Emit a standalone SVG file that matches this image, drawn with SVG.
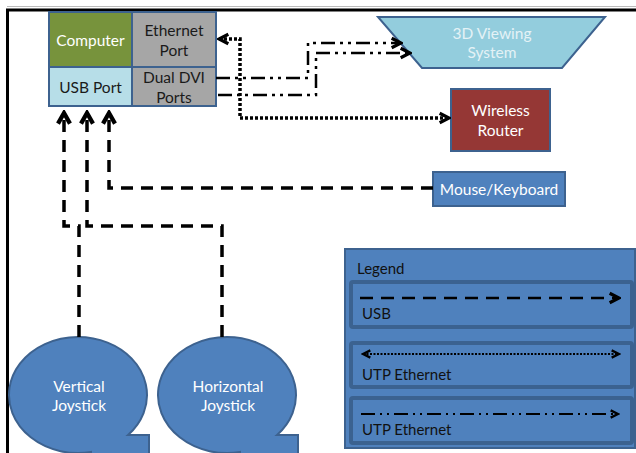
<svg xmlns="http://www.w3.org/2000/svg" width="636" height="453" viewBox="0 0 636 453">
<style>
text{font-family:Lato,"Liberation Sans",sans-serif;font-size:15.5px;text-anchor:middle;dominant-baseline:central}
.w{fill:#ffffff}
.d{fill:#1a1a1a}
.box{stroke:#3d628f;stroke-width:2}
.usb{fill:none;stroke:#000;stroke-width:3.5;stroke-dasharray:12 8}
.eth{fill:none;stroke:#000;stroke-width:3.5;stroke-dasharray:3 2}
.dvi{fill:none;stroke:#000;stroke-width:2.5;stroke-dasharray:14 5 3 5 3 5}
.lg{text-anchor:start;dominant-baseline:auto;font-size:15px;fill:#111}
</style>
<defs>
<marker id="up" markerUnits="userSpaceOnUse" markerWidth="16" markerHeight="16" viewBox="0 0 12 12" refX="10" refY="6" orient="auto">
<path d="M2,1.5 L10,6 L2,10.5" fill="none" stroke="#000" stroke-width="3.2"/>
</marker>
<marker id="chev" markerUnits="userSpaceOnUse" markerWidth="14" markerHeight="14" viewBox="0 0 12 12" refX="10" refY="6" orient="auto-start-reverse">
<path d="M2,2 L10,6 L2,10" fill="none" stroke="#000" stroke-width="2.8"/>
</marker>
<marker id="chevs" markerUnits="userSpaceOnUse" markerWidth="11" markerHeight="11" viewBox="0 0 12 12" refX="10" refY="6" orient="auto-start-reverse">
<path d="M2,2 L10,6 L2,10" fill="none" stroke="#000" stroke-width="2.6"/>
</marker>
</defs>

<rect width="636" height="453" fill="#fff"/>
<line x1="7" y1="6.5" x2="636" y2="6.5" stroke="#bbbbbb" stroke-width="1"/>
<line x1="6" y1="10" x2="636" y2="10" stroke="#000" stroke-width="3"/>
<line x1="7.5" y1="9" x2="7.5" y2="453" stroke="#000" stroke-width="3"/>

<g id="computer">
<rect x="49" y="12" width="83" height="55" fill="#77933c"/>
<rect x="132" y="12" width="84" height="55" fill="#a6a6a6"/>
<rect x="49" y="67" width="83" height="39" fill="#b7dee8"/>
<rect x="132" y="67" width="84" height="39" fill="#a6a6a6"/>
<rect x="49" y="12" width="167" height="94" fill="none" class="box"/>
<line x1="132" y1="12" x2="132" y2="106" class="box"/>
<line x1="49" y1="67" x2="216" y2="67" class="box"/>
<text x="90.5" y="40" class="w">Computer</text>
<text x="174" y="30" class="d">Ethernet</text>
<text x="174" y="50" class="d">Port</text>
<text x="90.5" y="87" class="d">USB Port</text>
<text x="174" y="77" class="d">Dual DVI</text>
<text x="174" y="97" class="d">Ports</text>
</g>

<g id="viewing">
<polygon points="378,17 605,17 562,68 422,68" fill="#93cddd" class="box"/>
<text x="492" y="33" fill="#e4f2f6">3D Viewing</text>
<text x="492" y="52" fill="#e4f2f6">System</text>
</g>

<g id="router">
<rect x="451" y="89" width="99" height="62" fill="#953735" class="box"/>
<text x="500.5" y="110" class="w">Wireless</text>
<text x="500.5" y="130" class="w">Router</text>
</g>

<g id="mouse">
<rect x="433" y="172" width="132" height="34" fill="#4f81bd" class="box"/>
<text x="499" y="189" class="w">Mouse/Keyboard</text>
</g>

<g id="vjoy">
<path d="M128,435 L149,435 L149,470 L91,470 L91,452 A69,58 0 1 1 128,435 Z" fill="#4f81bd" class="box"/>
<text x="79" y="386" class="w">Vertical</text>
<text x="79" y="405" class="w">Joystick</text>
</g>

<g id="hjoy">
<path d="M277,435 L298,435 L298,470 L240,470 L240,452 A69,58 0 1 1 277,435 Z" fill="#4f81bd" class="box"/>
<text x="228" y="386" class="w">Horizontal</text>
<text x="228" y="405" class="w">Joystick</text>
</g>

<g id="legend">
<rect x="345" y="249" width="290" height="199" fill="#4f81bd" stroke="#3d628f" stroke-width="2"/>
<text x="357" y="274" class="lg">Legend</text>
<rect x="351" y="282" width="281" height="45" rx="2" fill="#4f81bd" stroke="#3b6290" stroke-width="4"/>
<rect x="351" y="343" width="281" height="44" rx="2" fill="#4f81bd" stroke="#3b6290" stroke-width="4"/>
<rect x="351" y="398" width="281" height="45" rx="2" fill="#4f81bd" stroke="#3b6290" stroke-width="4"/>
<path d="M360,298 H619" fill="none" stroke="#000" stroke-width="2.5" stroke-dasharray="13 8" marker-end="url(#chev)"/>
<text x="362" y="319" class="lg">USB</text>
<path d="M363,354 H619" fill="none" stroke="#000" stroke-width="2" stroke-dasharray="2 1.5" marker-start="url(#chevs)" marker-end="url(#chevs)"/>
<text x="362" y="380" class="lg">UTP Ethernet</text>
<path d="M361,414 H618" fill="none" stroke="#000" stroke-width="2" stroke-dasharray="14 5 2 5 2 5" marker-end="url(#chevs)"/>
<text x="362" y="435" class="lg">UTP Ethernet</text>
</g>

<g id="connectors">
<path class="usb" d="M79,337 V226 H64 V113" marker-end="url(#up)"/>
<path class="usb" d="M222,337 V226 H87 V113" marker-end="url(#up)"/>
<path class="usb" d="M433,188 H109 V113" marker-end="url(#up)"/>
<path class="eth" d="M219,39 H240 V118 H449" marker-start="url(#chev)" marker-end="url(#chev)"/>
<path class="dvi" d="M216,78 H308 V43 H401" marker-end="url(#chev)"/>
<path class="dvi" d="M218,95 H316 V53 H410" marker-end="url(#chev)"/>
</g>
</svg>
